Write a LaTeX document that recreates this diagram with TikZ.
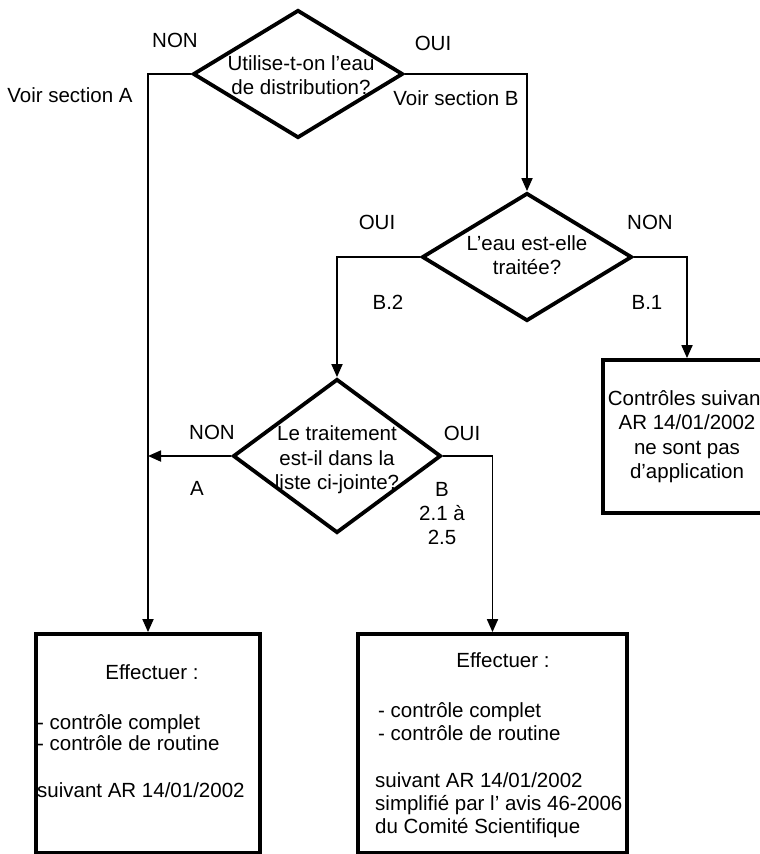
\documentclass[tikz,border=0pt]{standalone}
\usepackage{fontspec}
\setmainfont{Liberation Sans}
\usetikzlibrary{shapes.geometric,arrows.meta}
\begin{document}
\begin{tikzpicture}[x=1pt,y=-1pt,
  every node/.style={font=\fontsize{20.5}{24.5}\selectfont, inner sep=0pt},
  dia/.style={diamond, draw, line width=3.8pt, fill=white, minimum width=210pt, minimum height=128pt, inner sep=0pt},
  boxnode/.style={rectangle, draw, line width=3.8pt, fill=white, inner sep=0pt},
  wire/.style={line width=1.8pt},
  arr/.style={wire, -{Triangle[length=13pt,width=11pt]}},
]
\useasboundingbox (0,0) rectangle (760,854);
\clip (0,0) rectangle (760,854);
\fill[white] (0,0) rectangle (760,854);

% decisions
\node[dia] (d1) at (298,74) {};
\node[dia] (d2) at (527,257) {};
\node[dia, minimum width=208pt, minimum height=154pt] (d3) at (337,456) {};

% boxes
\node[boxnode, minimum width=168pt, minimum height=153pt, align=center] (b3) at (687,436.5)
  {Contrôles suivant\\AR 14/01/2002\\ne sont pas\\d'application};
\node[boxnode, minimum width=224pt, minimum height=219pt] (b1) at (148,743.5) {};
\node[boxnode, minimum width=269pt, minimum height=219pt] (b2) at (492.5,743.5) {};

% texts in diamonds
\node[align=center] (t1) at (301,75) {Utilise-t-on l'eau\\de distribution?};
\node[align=center] (t2) at (527,255) {L'eau est-elle\\traitée?};
\node[align=center] (t3) at (337,460) {Le traitement\\est-il dans la\\liste ci-jointe?};

% texts in boxes
\node (e1) at (152,672) {Effectuer :};
\node[anchor=west, align=left, font=\fontsize{20.5}{21.5}\selectfont] (c1) at (37,732.5)
  {- contrôle complet\\- contrôle de routine};
\node[anchor=west] (s1) at (37,790) {suivant AR 14/01/2002};
\node (e2) at (503,660) {Effectuer :};
\node[anchor=west, align=left, font=\fontsize{20.5}{23}\selectfont] (c2) at (378,721.5)
  {- contrôle complet\\- contrôle de routine};
\node[anchor=west, align=left, font=\fontsize{20.5}{23}\selectfont] (s2) at (375,805)
  {suivant AR 14/01/2002\\simplifié par l' avis 46-2006\\du Comité Scientifique};

% labels
\node (n1) at (175,40) {NON};
\node (va) at (70,95) {Voir section A};
\node (o1) at (433,43) {OUI};
\node (vb) at (456,98) {Voir section B};
\node (o2) at (377,222) {OUI};
\node (n2) at (650,222) {NON};
\node (lb2) at (388,302) {B.2};
\node (lb1) at (647,302) {B.1};
\node (n3) at (212,432) {NON};
\node (la) at (197,488) {A};
\node (o3) at (462,433) {OUI};
\node[align=center, font=\fontsize{20.5}{24}\selectfont] (lb) at (442,514) {B\\2.1 à\\2.5};

% connectors
\coordinate (jn) at (d3.west -| b1.north);
\draw[arr] (d1.west) -| (b1.north);
\draw[arr] (d1.east) -| (d2.north);
\draw[arr] (d2.west) -| (d3.north);
\draw[arr] (d2.east) -| (b3.north);
\draw[arr] (d3.east) -| (b2.north);
\draw[arr] (d3.west) -- (jn);
\end{tikzpicture}
\end{document}
